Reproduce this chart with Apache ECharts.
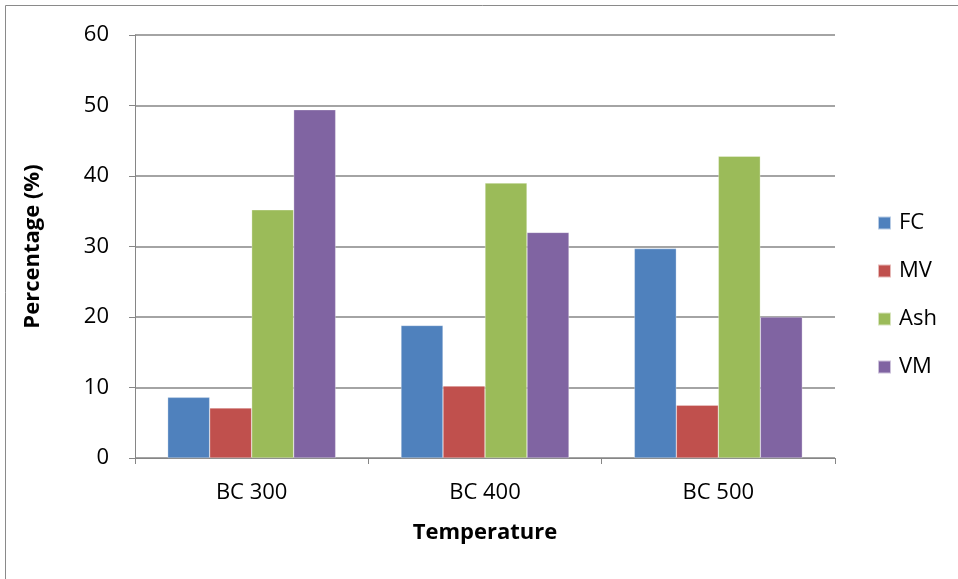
<!DOCTYPE html>
<html><head><meta charset="utf-8">
<script src="https://cdn.jsdelivr.net/npm/echarts@6/dist/echarts.min.js"></script>
<style>html,body{margin:0;padding:0;background:#fff}#c{width:958px;height:579px}</style>
</head><body><div id="c"></div>
<script>
const categories = ['BC 300', 'BC 400', 'BC 500'];
const seriesNames = ['FC', 'MV', 'Ash', 'VM'];
const fcValues = [8.6, 18.8, 29.7];
const mvValues = [7.1, 10.2, 7.5];
const ashValues = [35.2, 39.0, 42.8];
const vmValues = [49.4, 32.0, 20.0];
const yTicks = [0, 10, 20, 30, 40, 50, 60];
const colors = ['#4F81BD', '#C0504D', '#9BBB59', '#8064A2'];
const allValues = [fcValues, mvValues, ashValues, vmValues];

const font = '"Open Sans", sans-serif';
const chart = echarts.init(document.getElementById('c'), null, {renderer: 'canvas'});
chart.setOption({
  animation: false,
  backgroundColor: '#fff',
  textStyle: {fontFamily: font},
  graphic: [{
    type: 'rect', shape: {x: 5.5, y: 5.5, width: 1000, height: 1000},
    style: {fill: 'none', stroke: '#8a8a8a', lineWidth: 1}, silent: true, z: -10
  }],
  grid: {left: 135, right: 123, top: 35, bottom: 121},
  legend: {
    orient: 'vertical', left: 872, top: 207, itemWidth: 13, itemHeight: 13, itemGap: 26,
    icon: 'rect',
    textStyle: {fontSize: 22, lineHeight: 22, color: '#000', fontFamily: font, padding: [0, 0, 0, 3]},
    data: seriesNames
  },
  xAxis: {
    type: 'category', data: categories,
    name: 'Temperature', nameLocation: 'middle', nameGap: 64,
    nameTextStyle: {fontSize: 22, fontWeight: 'bold', color: '#000', fontFamily: font},
    axisLine: {lineStyle: {color: '#868686', width: 1}},
    axisTick: {show: true, length: 6, lineStyle: {color: '#868686'}},
    axisLabel: {fontSize: 22, color: '#000', margin: 24, fontFamily: font}
  },
  yAxis: {
    type: 'value', min: 0, max: 60, interval: 10,
    name: 'Percentage (%)', nameLocation: 'middle', nameGap: 91,
    nameTextStyle: {fontSize: 22, fontWeight: 'bold', color: '#000', fontFamily: font},
    axisLine: {show: true, lineStyle: {color: '#868686', width: 1}},
    axisTick: {show: true, length: 6, lineStyle: {color: '#868686'}},
    axisLabel: {fontSize: 22, color: '#000', margin: 26, fontFamily: font,
      formatter: v => yTicks.includes(v) ? String(v) : ''},
    splitLine: {show: true, lineStyle: {color: '#868686', width: 1.5}}
  },
  series: seriesNames.map((n, i) => ({
    name: n, type: 'bar', data: allValues[i],
    barGap: '0%', barCategoryGap: '28%',
    itemStyle: {color: colors[i], borderColor: 'rgba(255,255,255,0.6)', borderWidth: 0.5}
  }))
});
</script></body></html>
